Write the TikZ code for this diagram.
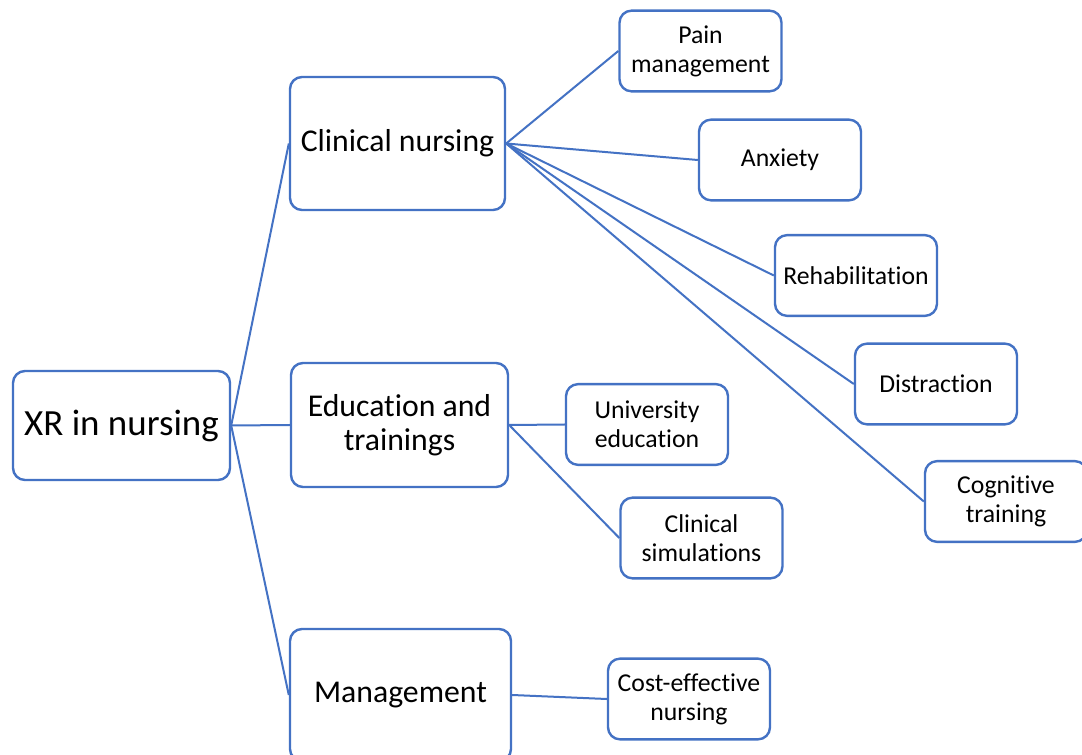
\documentclass[tikz,border=0pt]{standalone}
\usepackage{fontspec}
\setmainfont{Carlito}[Ligatures={NoCommon}]
\definecolor{boxblue}{HTML}{4472C4}
\begin{document}
\begin{tikzpicture}[x=0.75pt,y=-0.75pt,
  box/.style={draw=boxblue,line width=1.8pt,rounded corners=9pt,fill=white,
    align=center,inner sep=0pt,text=black},
  bigbox/.style={box,font=\fontsize{23.8}{25.5}\selectfont},
  xrbox/.style={box,font=\fontsize{27.7}{30}\selectfont},
  smallbox/.style={box,minimum width=121.5pt,minimum height=60.5pt,font=\fontsize{19.3}{21.75}\selectfont},
  conn/.style={draw=boxblue,line width=1.5pt}]
\clip (0,0) rectangle (1082,755);
\fill[white] (0,0) rectangle (1082,755);
% main boxes
\node[xrbox,minimum width=162.75pt,minimum height=81.75pt] (xr) at (121.5,425.5) {XR in nursing};
\node[bigbox,minimum width=161.25pt,minimum height=99.75pt] (cn) at (397.5,143.5) {Clinical nursing};
\node[bigbox,minimum width=162.75pt,minimum height=93pt] (ed) at (399.5,425) {Education and\\trainings};
\node[bigbox,minimum width=165.75pt,minimum height=99pt] (mg) at (400.5,695) {Management};
% leaves
\node[smallbox] (pm) at (700.5,51) {Pain\\management};
\node[smallbox] (ax) at (780,160) {Anxiety};
\node[smallbox] (rh) at (856,275.5) {Rehabilitation};
\node[smallbox] (di) at (936,384) {Distraction};
\node[smallbox] (ct) at (1006,501.5) {Cognitive\\training};
\node[smallbox] (ue) at (647,424.5) {University\\education};
\node[smallbox] (cs) at (701.5,538) {Clinical\\simulations};
\node[smallbox] (ce) at (689,699) {Cost-effective\\nursing};
% connectors
\draw[conn] (xr.east) -- (cn.west);
\draw[conn] (xr.east) -- (ed.west);
\draw[conn] (xr.east) -- (mg.west);
\draw[conn] (cn.east) -- (pm.west);
\draw[conn] (cn.east) -- (ax.west);
\draw[conn] (cn.east) -- (rh.west);
\draw[conn] (cn.east) -- (di.west);
\draw[conn] (cn.east) -- (ct.west);
\draw[conn] (ed.east) -- (ue.west);
\draw[conn] (ed.east) -- (cs.west);
\draw[conn] (mg.east) -- (ce.west);
\end{tikzpicture}
\end{document}
